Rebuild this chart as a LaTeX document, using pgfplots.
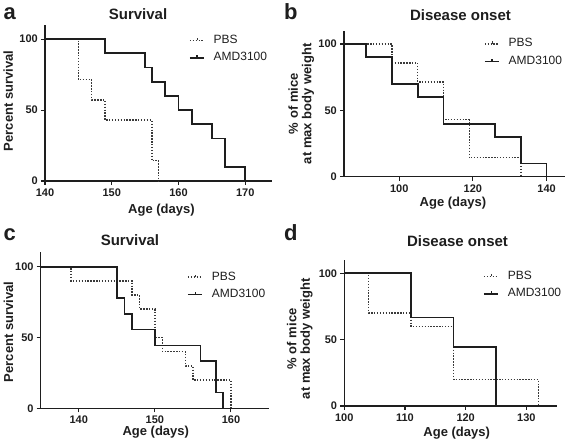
\documentclass[border=0pt]{standalone}
\usepackage{fontspec}
\setmainfont{Liberation Sans}
\usepackage{pgfplots}
\pgfplotsset{compat=1.18}

\definecolor{ink}{HTML}{1E1E1E}
\definecolor{dotc}{HTML}{3A3A3A}

\pgfplotsset{
  km/.style={
    scale only axis,
    axis lines=left,
    axis line style={-, line width=1.2pt, ink},
    tick align=outside,
    major tick length=4pt,
    tick style={line width=1.1pt, ink},
    ymin=0, ymax=110,
    ytick={0,50,100},
    clip=false,
    /pgf/number format/assume math mode=true,
    tick label style={font=\fontsize{11}{13}\selectfont\bfseries, text=ink, inner sep=1pt},
    xticklabel style={yshift=-2.7pt},
    yticklabel style={xshift=-2pt},
    legend style={draw=none, fill=none, anchor=north west,
      font=\fontsize{12}{14}\selectfont, text=ink,
      row sep=5.5pt, inner sep=0pt, outer sep=0pt,
      nodes={inner sep=0pt, text height=9pt, text depth=3pt},
      /tikz/every odd column/.append style={column sep=9pt}},
    legend cell align=left,
    legend image code/.code={
      \draw[##1] (0pt,0pt) -- (14pt,0pt);
      \draw[##1, solid] (7.5pt,0pt) -- (7.5pt,2.5pt);
    },
  },
  mytitle/.style 2 args={every axis title/.style={at={(rel axis cs:#1,#2)}, anchor=base, inner sep=0pt,
      font=\fontsize{15}{17}\selectfont\bfseries, text=ink}},
  myxlab/.style 2 args={every axis x label/.style={at={(rel axis cs:#1,#2)}, anchor=base, inner sep=0pt,
      font=\fontsize{13}{15}\selectfont\bfseries, text=ink}},
  myylab/.style 2 args={every axis y label/.style={at={(rel axis cs:#1,#2)}, rotate=90, anchor=base, inner sep=0pt,
      font=\fontsize{13}{15}\selectfont\bfseries, text=ink}},
  myylabtwo/.style 2 args={every axis y label/.style={at={(rel axis cs:#1,#2)}, rotate=90, anchor=center,
      inner sep=0pt, align=center, font=\fontsize{13}{13.5}\selectfont\bfseries, text=ink}},
  pbs/.style={const plot, dotc, line width=1.4pt, dash pattern=on 1.4pt off 1.5pt},
  amd/.style={const plot, ink, line width=1.8pt},
}

\begin{document}
\begin{tikzpicture}
\useasboundingbox (0pt,0pt) rectangle (567pt,446pt);

% ---------------- a ----------------
\begin{axis}[km, at={(45pt,265pt)}, anchor=south west, width=227pt, height=156pt,
  xmin=140, xmax=174, xtick={140,150,160,170},
  title={Survival}, mytitle={0.41}{1.037},
  xlabel={Age (days)}, myxlab={0.513}{-0.207},
  ylabel={Percent survival}, myylab={-0.141}{0.514},
  legend style={at={(rel axis cs:0.634,0.940)}}]
\addplot[pbs] coordinates {(140,100) (145,71.4) (147,57.1) (149,42.9) (156,14.3) (157,0)};
\addlegendentry{PBS}
\addplot[amd] coordinates {(140,100) (149,90) (155,80) (156,70) (158,60) (160,50) (162,40) (165,30) (167,10) (170,0)};
\addlegendentry{AMD3100}
\end{axis}

% ---------------- b ----------------
\begin{axis}[km, at={(344pt,269.3pt)}, anchor=south west, width=221pt, height=146pt,
  xmin=85, xmax=145, xtick={100,120,140},
  title={Disease onset}, mytitle={0.527}{1.068},
  xlabel={Age (days)}, myxlab={0.493}{-0.205},
  ylabel={\% of mice\\at max body weight}, myylabtwo={-0.193}{0.5},
  legend style={at={(rel axis cs:0.633,0.950)}}]
\addplot[pbs] coordinates {(85,100) (98,85.7) (105,71.4) (112,42.9) (119,14.3) (133,0)};
\addlegendentry{PBS}
\addplot[amd] coordinates {(85,100) (91,90) (98,70) (105,60) (112,40) (126,30) (133,10) (140,0)};
\addlegendentry{AMD3100}
\end{axis}

% ---------------- c ----------------
\begin{axis}[km, at={(40.7pt,37.7pt)}, anchor=south west, width=228.3pt, height=155.8pt,
  xmin=135, xmax=165, xtick={140,150,160},
  title={Survival}, mytitle={0.391}{1.042},
  xlabel={Age (days)}, myxlab={0.504}{-0.172},
  ylabel={Percent survival}, myylab={-0.121}{0.49},
  legend style={at={(rel axis cs:0.641,0.881)}}]
\addplot[pbs] coordinates {(135,100) (139,90) (147,80) (148,70) (150,50) (151,40) (154,30) (155,20) (160,0)};
\addlegendentry{PBS}
\addplot[amd] coordinates {(135,100) (145,77.8) (146,66.7) (147,55.6) (150,44.4) (156,33.3) (158,11.1) (159,0)};
\addlegendentry{AMD3100}
\end{axis}

% ---------------- d ----------------
\begin{axis}[km, at={(344.3pt,40pt)}, anchor=south west, width=212.4pt, height=146pt,
  xmin=100, xmax=135, xtick={100,110,120,130},
  title={Disease onset}, mytitle={0.533}{1.091},
  xlabel={Age (days)}, myxlab={0.529}{-0.210},
  ylabel={\% of mice\\at max body weight}, myylabtwo={-0.21}{0.46},
  legend style={at={(rel axis cs:0.653,0.929)}}]
\addplot[pbs] coordinates {(100,100) (104,70) (111,60) (118,20) (132,0)};
\addlegendentry{PBS}
\addplot[amd] coordinates {(100,100) (111,66.7) (118,44.4) (125,0)};
\addlegendentry{AMD3100}
\end{axis}

% panel letters
\node[anchor=base west, inner sep=0pt, font=\fontsize{22}{24}\selectfont\bfseries, text=ink] at (3.3pt,426.7pt) {a};
\node[anchor=base west, inner sep=0pt, font=\fontsize{22}{24}\selectfont\bfseries, text=ink] at (284pt,426.7pt) {b};
\node[anchor=base west, inner sep=0pt, font=\fontsize{22}{24}\selectfont\bfseries, text=ink] at (3.3pt,205.3pt) {c};
\node[anchor=base west, inner sep=0pt, font=\fontsize{22}{24}\selectfont\bfseries, text=ink] at (284pt,205.3pt) {d};
\end{tikzpicture}
\end{document}
